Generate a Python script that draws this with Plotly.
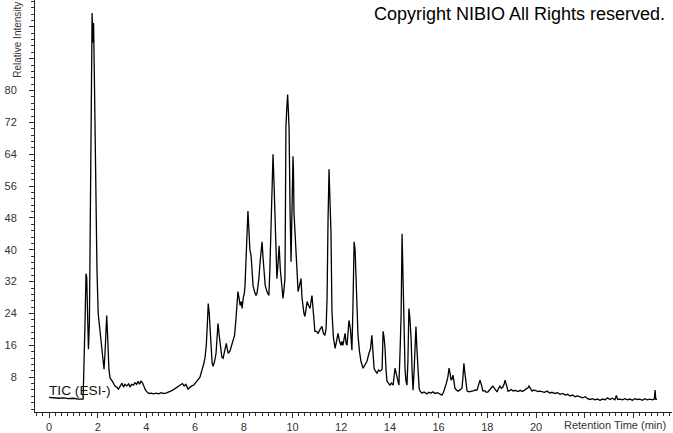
import plotly.graph_objects as go

# Retention time (min) and relative intensity
time_min = [
    0.00, 0.20, 0.40, 0.60, 0.80, 1.00, 1.20, 1.40,
    1.44, 1.48, 1.52, 1.55, 1.58, 1.62, 1.66, 1.70, 1.74, 1.77, 1.80, 1.83, 1.86, 1.89, 1.92, 1.97,
    2.02, 2.09, 2.15, 2.22, 2.26, 2.30, 2.34, 2.37, 2.41, 2.46, 2.51, 2.60, 2.71, 2.78, 2.85, 2.92,
    3.00, 3.06, 3.12, 3.20, 3.27, 3.33, 3.40, 3.47, 3.53, 3.60, 3.66, 3.72, 3.78, 3.84, 3.90, 3.96,
    4.02, 4.10, 4.20, 4.30, 4.40, 4.50, 4.60, 4.70, 4.80, 4.90, 5.00, 5.10, 5.20, 5.30, 5.40, 5.48,
    5.55, 5.62, 5.71, 5.78, 5.86, 5.94, 6.02, 6.10, 6.20, 6.28, 6.36, 6.41, 6.46, 6.50, 6.54, 6.58,
    6.62, 6.66, 6.70, 6.74, 6.80, 6.86, 6.90, 6.94, 6.98, 7.04, 7.10, 7.15, 7.22, 7.28, 7.31, 7.36,
    7.43, 7.50, 7.56, 7.62, 7.67, 7.72, 7.76, 7.80, 7.85, 7.90, 7.93, 7.98, 8.02, 8.05, 8.10, 8.14,
    8.17, 8.21, 8.25, 8.30, 8.34, 8.38, 8.44, 8.50, 8.54, 8.58, 8.62, 8.67, 8.71, 8.75, 8.79, 8.83,
    8.88, 8.95, 9.00, 9.03, 9.07, 9.12, 9.16, 9.20, 9.24, 9.28, 9.32, 9.36, 9.40, 9.45, 9.50, 9.57,
    9.61, 9.65, 9.69, 9.71, 9.73, 9.77, 9.80, 9.83, 9.86, 9.90, 9.94, 9.98, 10.02, 10.04, 10.06, 10.12,
    10.18, 10.23, 10.29, 10.35, 10.39, 10.43, 10.47, 10.51, 10.56, 10.60, 10.66, 10.72, 10.76, 10.80,
    10.86, 10.92, 10.98, 11.05, 11.13, 11.21, 11.27, 11.33, 11.38, 11.42, 11.46, 11.50, 11.54, 11.58,
    11.62, 11.68, 11.75, 11.81, 11.87, 11.93, 11.99, 12.03, 12.07, 12.16, 12.20, 12.24, 12.28, 12.32,
    12.38, 12.44, 12.48, 12.53, 12.57, 12.61, 12.65, 12.69, 12.75, 12.81, 12.90, 12.98, 13.06, 13.14,
    13.20, 13.26, 13.30, 13.35, 13.41, 13.47, 13.53, 13.59, 13.68, 13.72, 13.76, 13.80, 13.84, 13.88,
    13.94, 14.00, 14.06, 14.13, 14.21, 14.25, 14.29, 14.37, 14.42, 14.46, 14.50, 14.54, 14.58, 14.62,
    14.66, 14.70, 14.74, 14.78, 14.82, 14.87, 14.91, 14.95, 14.99, 15.03, 15.07, 15.11, 15.15, 15.20,
    15.24, 15.32, 15.40, 15.52, 15.60, 15.68, 15.77, 15.85, 15.95, 16.05, 16.14, 16.20, 16.26, 16.32,
    16.38, 16.43, 16.47, 16.51, 16.55, 16.59, 16.63, 16.67, 16.73, 16.80, 16.88, 16.96, 17.00, 17.04,
    17.08, 17.12, 17.17, 17.25, 17.37, 17.45, 17.52, 17.58, 17.64, 17.70, 17.76, 17.82, 17.90, 17.96,
    18.03, 18.10, 18.17, 18.23, 18.30, 18.35, 18.40, 18.46, 18.52, 18.58, 18.64, 18.69, 18.73, 18.78,
    18.85, 18.92, 18.98, 19.06, 19.14, 19.26, 19.35, 19.45, 19.55, 19.63, 19.68, 19.71, 19.76, 19.84,
    19.92, 20.00, 20.08, 20.16, 20.25, 20.35, 20.45, 20.57, 20.65, 20.78, 20.88, 20.99, 21.10, 21.20,
    21.30, 21.40, 21.50, 21.60, 21.70, 21.81, 21.92, 22.02, 22.12, 22.22, 22.32, 22.42, 22.52, 22.63,
    22.73, 22.84, 22.94, 23.04, 23.14, 23.24, 23.30, 23.35, 23.45, 23.55, 23.65, 23.76, 23.86, 23.96,
    24.06, 24.16, 24.27, 24.37, 24.47, 24.57, 24.68, 24.78, 24.86, 24.89, 24.92, 24.97,
]
intensity = [
    2.9, 2.8, 2.7, 2.8, 2.6, 2.7, 2.5, 2.5,
    10, 22, 34, 33, 25, 15, 22, 55, 90, 99.5, 92, 97, 85, 70, 53, 35,
    24, 19.5, 16, 12.75, 10, 14, 22, 23.5, 18, 10, 7.75, 7.0, 5.75, 5.5, 5.0, 5.75,
    6.5, 5.5, 6.2, 5.8, 6.3, 5.6, 6.2, 6.0, 6.6, 6.2, 7.0, 6.2, 7.0, 6.6, 5.6, 4.8,
    4.3, 3.9, 4.0, 3.8, 4.0, 3.8, 4.1, 3.9, 4.0, 4.2, 4.5, 4.8, 5.2, 5.6, 6.0, 6.4,
    5.8, 6.2, 5.0, 5.5, 5.8, 6.0, 6.5, 7.2, 8.0, 9.5, 11.5, 13, 16, 21, 26.5, 24,
    19, 14, 11.5, 10.75, 12, 14, 18, 21.5, 19, 15, 13, 12.75, 14.5, 16.5, 15.5, 14,
    14.5, 16, 17, 18.5, 22, 27, 29.5, 28, 26, 27, 25.25, 28, 29, 31, 38, 46,
    49.75, 45, 40, 38.5, 34, 31, 29.5, 28.5, 29, 31, 32.75, 37, 40, 42, 38, 33.5,
    31, 29.5, 28.8, 28.5, 35, 47, 58, 64, 57, 47.75, 40, 32.75, 36, 41, 35, 29.5,
    27.75, 30, 32.75, 50, 71, 76, 79, 75, 70.25, 50, 37, 50, 63.5, 60, 49.5, 42,
    36, 29.5, 31, 32.75, 28, 25.25, 24, 23.25, 25, 27, 26, 25.25, 27, 28.5,
    24, 19.5, 19.5, 19, 20, 20.75, 19, 18.5, 20.25, 28, 47.75, 60.25, 52, 44.5,
    24.5, 18, 15.25, 17.5, 19, 17, 16, 17, 16, 19, 16.5, 16, 19, 22.25,
    20, 14.75, 25, 42, 40, 32, 24, 18.5, 14.5, 12, 10.25, 11, 12, 14,
    15, 18.5, 15, 10.25, 9.5, 9, 9.8, 9.5, 10, 19.5, 18, 15.25, 10, 7,
    6.5, 6, 6.5, 6, 10.25, 9, 7.75, 6, 15, 23.5, 44, 32, 20, 10.25,
    7, 6, 12, 25.25, 23, 17.75, 10, 4.75, 9, 13.5, 20.75, 15, 8.5, 5.25,
    4.5, 4, 4.3, 3.8, 4.2, 4.0, 4.3, 3.9, 4.1, 3.7, 3.5, 4.2, 5.25, 6.5,
    8, 10.25, 9, 7.25, 7.5, 8.5, 7, 5.25, 4.8, 4.5, 4.8, 5.25, 8, 11.5,
    9, 6, 4.5, 4.3, 4.4, 4.6, 4.8, 4.75, 6, 7.25, 6, 4.5, 4.6, 4.2,
    4.3, 5, 5.4, 5.75, 5, 4.5, 4.3, 5.2, 5.75, 5.2, 5.5, 6.2, 7.25, 6.2,
    4.5, 4.6, 4.9, 4.5, 4.7, 4.4, 4.7, 4.4, 4.8, 5.0, 5.4, 5.75, 5.2, 4.5,
    4.8, 4.6, 4.4, 4.5, 4.4, 4.2, 4.5, 4.0, 4.2, 3.9, 4.1, 3.7, 3.9, 3.5,
    3.7, 3.25, 3.5, 3.1, 3.3, 3.0, 2.8, 3.1, 2.6, 2.4, 2.6, 2.3, 2.5, 2.2,
    2.5, 2.3, 2.8, 2.4, 2.7, 2.3, 3.4, 2.4, 2.5, 2.3, 2.6, 2.3, 2.5, 2.2,
    2.6, 2.4, 2.5, 2.2, 2.6, 2.3, 2.5, 2.3, 2.5, 4.75, 2.4, 2.4,
]

x_tick_values = [0, 2, 4, 6, 8, 10, 12, 14, 16, 18, 20, 22, 24]
x_tick_labels = ["0", "2", "4", "6", "8", "10", "12", "14", "16", "18", "20", "", ""]
y_tick_values = [8, 16, 24, 32, 40, 48, 56, 64, 72, 80, 88, 96]
y_tick_labels = ["8", "16", "24", "32", "40", "48", "56", "64", "72", "80", "", ""]

W, H = 673, 433
ML, MR, MT, MB = 35, 1, 0, 19
PW = W - ML - MR
PH = H - MT - MB
PX_PER_MIN = 24.35
PX_PER_UNIT = 4.0
x0 = -(49 - ML) / PX_PER_MIN
x_range = [x0, x0 + PW / PX_PER_MIN]
y_range = [-(414 - 411) / PX_PER_UNIT, 411 / PX_PER_UNIT]

fig = go.Figure()
fig.add_trace(go.Scatter(
    x=time_min, y=intensity, mode="lines",
    line=dict(color="black", width=1.3),
    hoverinfo="skip", showlegend=False,
))

FONT = "Liberation Sans, Arial, sans-serif"
tick_font = dict(family=FONT, size=11, color="#333333")

fig.update_layout(
    width=W, height=H,
    margin=dict(l=ML, r=MR, t=MT, b=MB, pad=0),
    paper_bgcolor="white", plot_bgcolor="white",
    xaxis=dict(
        range=x_range, showgrid=False, zeroline=False,
        showline=True, linecolor="#222222", linewidth=1,
        tickmode="array", tickvals=x_tick_values, ticktext=x_tick_labels,
        ticks="outside", ticklen=5, tickcolor="#333333", tickwidth=1,
        tickfont=tick_font,
        minor=dict(dtick=0.25, tick0=0, ticks="outside", ticklen=3,
                   tickcolor="#333333", tickwidth=1, showgrid=False),
    ),
    yaxis=dict(
        range=y_range, showgrid=False, zeroline=False,
        showline=True, linecolor="#222222", linewidth=1,
        tickmode="array", tickvals=y_tick_values, ticktext=y_tick_labels,
        ticks="outside", ticklen=5, tickcolor="#333333", tickwidth=1,
        tickfont=tick_font, ticklabelstandoff=10,
        minor=dict(dtick=1.6, tick0=0, ticks="outside", ticklen=3,
                   tickcolor="#333333", tickwidth=1, showgrid=False),
    ),
)

fig.add_annotation(
    text="Copyright NIBIO All Rights reserved.",
    xref="paper", yref="paper",
    x=(667 - ML) / PW, y=1 - (14 - MT) / PH,
    xanchor="right", yanchor="middle", showarrow=False,
    font=dict(family=FONT, size=18, color="black"),
)
fig.add_annotation(
    text="Relative Intensity",
    xref="paper", yref="paper",
    x=(18 - ML) / PW, y=1 - (40 - MT) / PH,
    xanchor="center", yanchor="middle", textangle=-90, showarrow=False,
    font=dict(family=FONT, size=10, color="#333333"),
)
fig.add_annotation(
    text="Retention Time (min)",
    xref="paper", yref="paper",
    x=(668 - ML) / PW, y=-(427 - MT - PH) / PH,
    xanchor="right", yanchor="middle", showarrow=False,
    font=dict(family=FONT, size=11, color="#333333"),
)
fig.add_annotation(
    text="TIC (ESI-)",
    xref="paper", yref="paper",
    x=(47 - ML) / PW, y=1 - (392 - MT) / PH,
    xanchor="left", yanchor="middle", showarrow=False,
    font=dict(family=FONT, size=13.7, color="#111111"),
)

fig.write_html("out.html", config={"displayModeBar": False},
               post_script="document.body.style.margin='0';")
